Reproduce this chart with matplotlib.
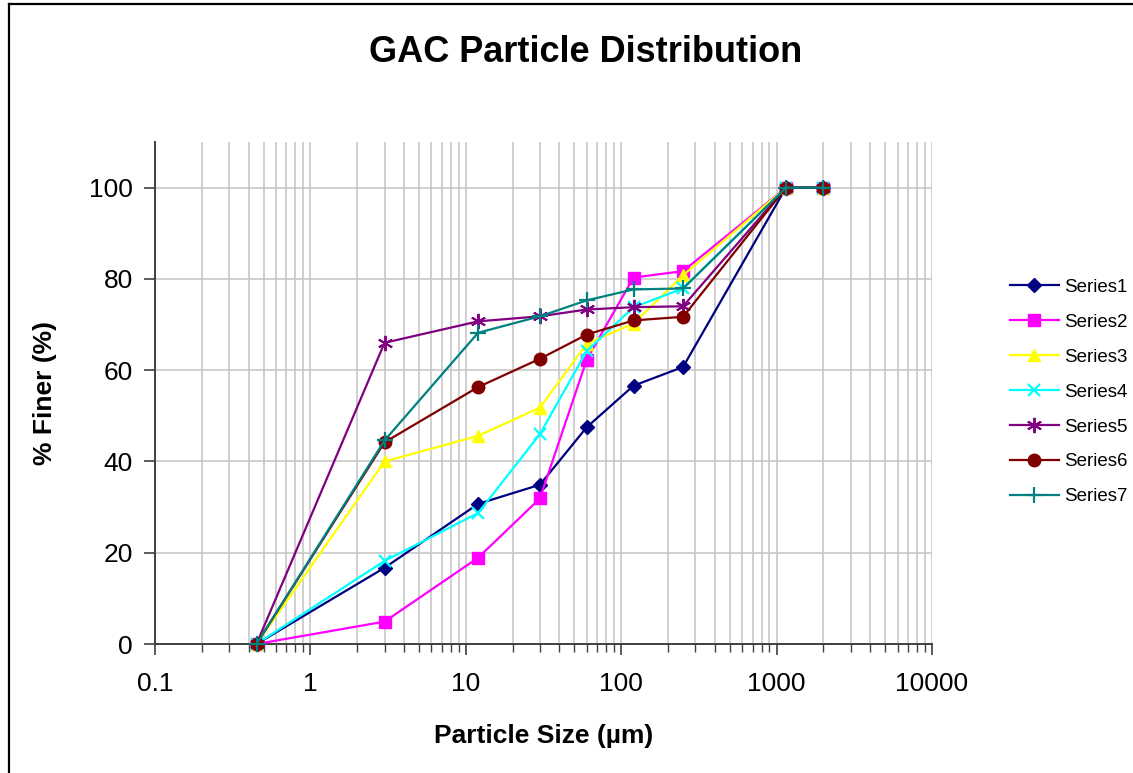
import numpy as np
import matplotlib
matplotlib.use("Agg")
import matplotlib.pyplot as plt
from matplotlib.lines import Line2D
from matplotlib.ticker import LogLocator, FixedLocator, FuncFormatter, NullFormatter

plt.rcParams['font.family'] = ['Liberation Sans', 'DejaVu Sans']

# Sieve / particle sizes (µm)
sizes = [0.45, 3, 12, 30, 60, 120, 250, 1150, 2000]

series1 = [0, 16.7, 30.7, 34.9, 47.5, 56.6, 60.7, 100, 100]
series2 = [0, 4.9, 18.9, 31.9, 62.3, 80.3, 81.7, 100, 100]
series3 = [0, 40.0, 45.6, 51.8, 65.8, 70.2, 80.8, 100, 100]
series4 = [0, 18.2, 28.7, 46.0, 64.2, 73.8, 77.9, 100, 100]
series5 = [0, 66.0, 70.7, 71.8, 73.3, 73.8, 74.0, 100, 100]
series6 = [0, 44.2, 56.3, 62.5, 67.8, 70.9, 71.7, 100, 100]
series7 = [0, 44.6, 68.2, 71.8, 75.3, 77.7, 77.9, 100, 100]

series_names = ["Series1", "Series2", "Series3", "Series4",
                "Series5", "Series6", "Series7"]
series_values = [series1, series2, series3, series4, series5, series6, series7]

x_tick_labels = ["0.1", "1", "10", "100", "1000", "10000"]
y_ticks = [0, 20, 40, 60, 80, 100]

styles = [
    dict(color="#000080", marker="D", ms=7, mew=1),
    dict(color="#FF00FF", marker="s", ms=8, mew=1),
    dict(color="#FFFF00", marker="^", ms=9, mew=1),
    dict(color="#00FFFF", marker="x", ms=9, mew=1.6),
    dict(color="#800080", marker=(6, 2, 0), ms=11, mew=1.4),
    dict(color="#800000", marker="o", ms=9, mew=1),
    dict(color="#008080", marker="+", ms=11, mew=1.6),
]

fig = plt.figure(figsize=(11.33, 7.73), dpi=100)
ax = fig.add_axes([155 / 1133, 1 - 644 / 773, (932 - 155) / 1133, (644 - 142) / 773])

for name, vals, st in zip(series_names, series_values, styles):
    ax.plot(sizes, vals, color=st["color"], lw=1.6, marker=st["marker"],
            ms=st["ms"], mew=st["mew"], mfc=st["color"], mec=st["color"],
            label=name, clip_on=False, zorder=3)

ax.set_xscale("log")
ax.set_xlim(0.1, 10000)
ax.set_ylim(0, 110)

ax.xaxis.set_major_locator(FixedLocator([0.1, 1, 10, 100, 1000, 10000]))
ax.xaxis.set_major_formatter(FuncFormatter(
    lambda v, p: x_tick_labels[int(round(np.log10(v))) + 1]))
ax.xaxis.set_minor_locator(LogLocator(base=10, subs=np.arange(2, 10), numticks=20))
ax.xaxis.set_minor_formatter(NullFormatter())
ax.yaxis.set_major_locator(FixedLocator(y_ticks))

ax.grid(True, which="major", axis="both", color="#c8c8c8", lw=1.2)
ax.grid(True, which="minor", axis="x", color="#c8c8c8", lw=1.2)
ax.set_axisbelow(True)

for s in ["top", "right"]:
    ax.spines[s].set_visible(False)
for s in ["left", "bottom"]:
    ax.spines[s].set_color("#404040")
    ax.spines[s].set_linewidth(1.4)

ax.tick_params(axis="both", which="major", direction="out", length=8,
               width=1.2, color="#404040", labelsize=19, pad=8)
ax.tick_params(axis="x", which="minor", direction="out", length=6,
               width=1.0, color="#404040")
ax.tick_params(axis="x", which="major", pad=12)

ax.set_xlabel("Particle Size (µm)", fontsize=19, fontweight="bold", labelpad=20)
ax.set_ylabel("% Finer (%)", fontsize=19, fontweight="bold", labelpad=23)
fig.text(0.517, 1 - 52 / 773, "GAC Particle Distribution", ha="center",
         va="center", fontsize=26, fontweight="bold")

handles = [Line2D([0], [0], color=st["color"], lw=1.6, marker=st["marker"],
                  ms=st["ms"], mew=st["mew"], mfc=st["color"], mec=st["color"])
           for st in styles]
fig.legend(handles, series_names, loc="center left",
           bbox_to_anchor=(1010 / 1133, 1 - 392 / 773), frameon=False,
           fontsize=13.5, handlelength=2.6, labelspacing=0.95, handletextpad=0.3,
           borderpad=0, borderaxespad=0)

# Chart frame
fig.add_artist(Line2D([9 / 1133, 9 / 1133], [0, 1 - 4 / 773], color="black",
                      lw=1.6, transform=fig.transFigure))
fig.add_artist(Line2D([9 / 1133, 1], [1 - 4 / 773, 1 - 4 / 773], color="black",
                      lw=1.6, transform=fig.transFigure))

fig.savefig("out.png", dpi=100)
